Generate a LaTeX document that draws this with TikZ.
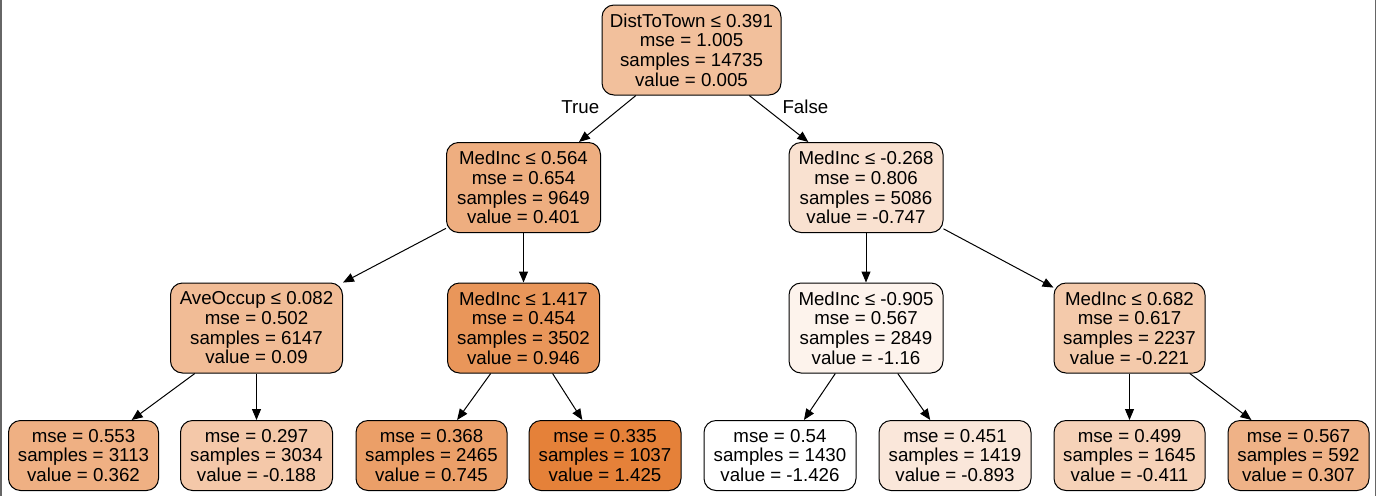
\documentclass[tikz,border=0pt]{standalone}
\usepackage{fontspec}
\setmainfont{Liberation Sans}
\usepackage{tikz}
\usetikzlibrary{positioning,arrows.meta}

\definecolor{vRoot}{HTML}{F2C09C}
\definecolor{vA}{HTML}{EEAE80}
\definecolor{vB}{HTML}{F9E1D0}
\definecolor{vAA}{HTML}{F1BC96}
\definecolor{vAB}{HTML}{E9965A}
\definecolor{vBA}{HTML}{FDF3EC}
\definecolor{vBB}{HTML}{F4CAAB}
\definecolor{vAAA}{HTML}{EFB083}
\definecolor{vAAB}{HTML}{F4C8A9}
\definecolor{vABA}{HTML}{EB9F68}
\definecolor{vABB}{HTML}{E58139}
\definecolor{vBAA}{HTML}{FFFFFF}
\definecolor{vBAB}{HTML}{FAE7DA}
\definecolor{vBBA}{HTML}{F6D2B8}
\definecolor{vBBB}{HTML}{EFB287}

\begin{document}
\begin{tikzpicture}[x=1pt,y=-1pt,node distance=46.5pt]
  \tikzstyle{DTnode}=[draw=black,line width=1pt,rounded corners=12pt,align=center,inner sep=0pt,minimum height=90pt,font=\fontsize{18.7}{19.7}\selectfont]
  \tikzstyle{DTleaf}=[DTnode,minimum height=70pt]
  \tikzstyle{DTedge}=[-{Triangle[length=11pt,width=9pt]},line width=1pt]
  \tikzstyle{DTlabel}=[inner sep=0pt,font=\fontsize{18.7}{19.7}\selectfont]
  \useasboundingbox (0,0) rectangle (1376,496);
  \draw[line width=1.5pt,black!60] (0.75,0) -- (0.75,496);
  \draw[line width=1.5pt,black!60] (1375.25,0) -- (1375.25,496);

  \node[DTnode, fill=vRoot, minimum width=179pt] (n0) at (691.5,50) {DistToTown ≤ 0.391\\mse = 1.005\\samples = 14735\\value = 0.005};

  \node[DTnode, fill=vA, minimum width=154pt, below=of n0, xshift=-168pt] (n1) {MedInc ≤ 0.564\\mse = 0.654\\samples = 9649\\value = 0.401};
  \node[DTnode, fill=vB, minimum width=154pt, below=of n0, xshift=174.5pt] (n2) {MedInc ≤ -0.268\\mse = 0.806\\samples = 5086\\value = -0.747};

  \node[DTnode, fill=vAA, minimum width=172pt, below=49.5pt of n1, xshift=-267pt] (n3) {AveOccup ≤ 0.082\\mse = 0.502\\samples = 6147\\value = 0.09};
  \node[DTnode, fill=vAB, minimum width=152pt, below=49.5pt of n1] (n4) {MedInc ≤ 1.417\\mse = 0.454\\samples = 3502\\value = 0.946};
  \node[DTnode, fill=vBA, minimum width=154pt, below=49.5pt of n2] (n5) {MedInc ≤ -0.905\\mse = 0.567\\samples = 2849\\value = -1.16};
  \node[DTnode, fill=vBB, minimum width=151pt, below=49.5pt of n2, xshift=263.5pt] (n6) {MedInc ≤ 0.682\\mse = 0.617\\samples = 2237\\value = -0.221};

  % leaves
  \node[DTleaf, fill=vAAA, minimum width=150pt, below=of n3, xshift=-173pt] (n7) {mse = 0.553\\samples = 3113\\value = 0.362};
  \node[DTleaf, fill=vAAB, minimum width=152pt, below=of n3] (n8) {mse = 0.297\\samples = 3034\\value = -0.188};
  \node[DTleaf, fill=vABA, minimum width=151pt, below=of n4, xshift=-92pt] (n9) {mse = 0.368\\samples = 2465\\value = 0.745};
  \node[DTleaf, fill=vABB, minimum width=152pt, below=of n4, xshift=81.5pt] (n10) {mse = 0.335\\samples = 1037\\value = 1.425};
  \node[DTleaf, fill=vBAA, minimum width=152pt, below=of n5, xshift=-86pt] (n11) {mse = 0.54\\samples = 1430\\value = -1.426};
  \node[DTleaf, fill=vBAB, minimum width=152pt, below=of n5, xshift=89pt] (n12) {mse = 0.451\\samples = 1419\\value = -0.893};
  \node[DTleaf, fill=vBBA, minimum width=151pt, below=of n6] (n13) {mse = 0.499\\samples = 1645\\value = -0.411};
  \node[DTleaf, fill=vBBB, minimum width=141pt, below=of n6, xshift=169pt] (n14) {mse = 0.567\\samples = 592\\value = 0.307};

  % edges
  \draw[DTedge] (n0) -- node[DTlabel, pos=0.25, left=22pt] {True} (n1);
  \draw[DTedge] (n0) -- node[DTlabel, pos=0.25, right=18pt] {False} (n2);
  \draw[DTedge] (n1) -- (n3);
  \draw[DTedge] (n1) -- (n4);
  \draw[DTedge] (n2) -- (n5);
  \draw[DTedge] (n2) -- (n6);
  \draw[DTedge] (n3) -- (n7);
  \draw[DTedge] (n3) -- (n8);
  \draw[DTedge] (n4) -- (n9);
  \draw[DTedge] (n4) -- (n10);
  \draw[DTedge] (n5) -- (n11);
  \draw[DTedge] (n5) -- (n12);
  \draw[DTedge] (n6) -- (n13);
  \draw[DTedge] (n6) -- (n14);

\end{tikzpicture}
\end{document}
